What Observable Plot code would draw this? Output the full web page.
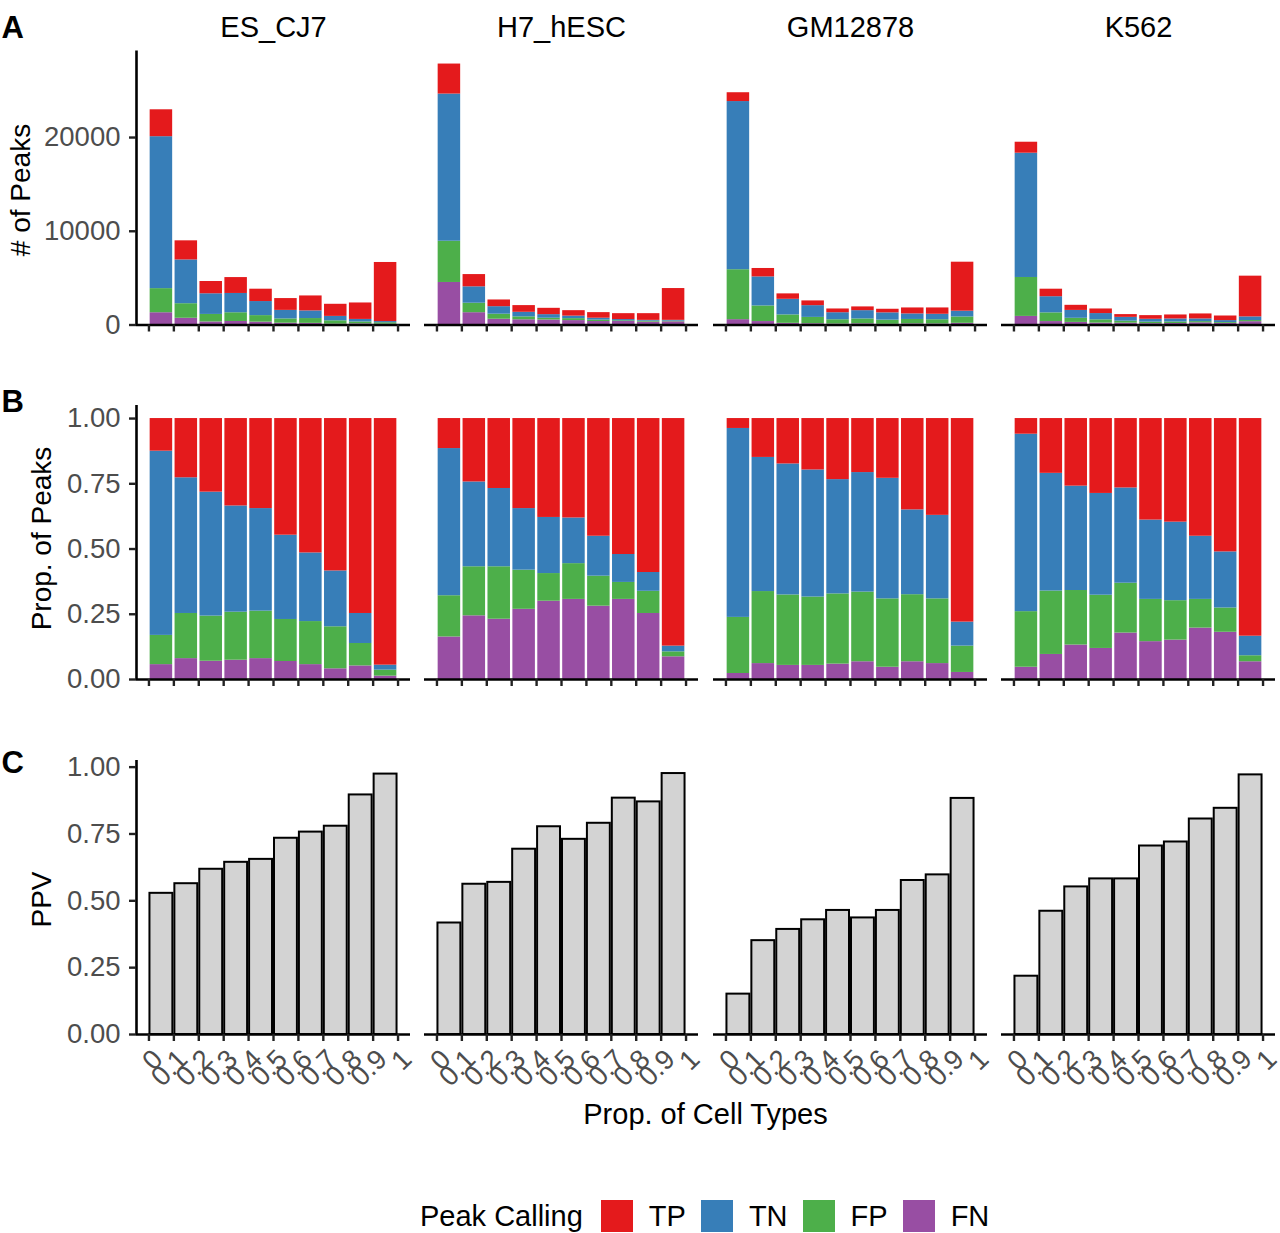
<!DOCTYPE html>
<html><head><meta charset="utf-8">
<script src="https://cdn.jsdelivr.net/npm/d3@7"></script>
<script src="https://cdn.jsdelivr.net/npm/@observablehq/plot@0.6"></script>
<style>
body{margin:0;background:#fff;}
#chart{position:relative;width:1280px;height:1233px;overflow:hidden;font-family:"Liberation Sans",Arial,Helvetica,sans-serif;background:#fff;}
#chart svg{position:absolute;}
.xtitle{position:absolute;left:136px;width:1139px;top:1100px;text-align:center;font-size:29px;line-height:28px;color:#000;}
.legend{position:absolute;left:420px;top:1200px;height:32px;display:flex;align-items:center;font-size:29px;line-height:32px;color:#000;}
.legend .sw{width:32px;height:32px;margin-right:16px;}
.legend .lab{margin-right:15px;}
.legend .ttl{margin-right:18px;}
</style></head><body><div id="chart"></div>
<script>
// ---------- data ----------
const cellTypes = ["ES_CJ7", "H7_hESC", "GM12878", "K562"];
const classes = ["TP", "TN", "FP", "FN"];          // legend order
const classColors = ["#E41A1C", "#377EB8", "#4DAF4A", "#984EA3"];
const stackOrder = ["FN", "FP", "TN", "TP"];       // bottom -> top
const binStarts = [0, 0.1, 0.2, 0.3, 0.4, 0.5, 0.6, 0.7, 0.8, 0.9];
const binWidth = 0.1;
const xTicks = [0, 0.1, 0.2, 0.3, 0.4, 0.5, 0.6, 0.7, 0.8, 0.9, 1];
const xTickLabels = ["0", "0.1", "0.2", "0.3", "0.4", "0.5", "0.6", "0.7", "0.8", "0.9", "1"];
const yTicksCount = [0, 10000, 20000];
const yTicksProp = [0, 0.25, 0.5, 0.75, 1];
const rowLetters = ["A", "B", "C"];
const rowTitles = ["# of Peaks", "Prop. of Peaks", "PPV"];
const xTitle = "Prop. of Cell Types";
const legendTitle = "Peak Calling";

// total peaks per bin (panel A)
const totES_CJ7  = [22960, 8980, 4640, 5060, 3820, 2820, 3100, 2210, 2350, 6670];
const totH7_hESC = [27840, 5380, 2670, 2070, 1780, 1530, 1320, 1210, 1210, 3890];
const totGM12878 = [24780, 6030, 3320, 2570, 1710, 1930, 1680, 1820, 1820, 6700];
const totK562    = [19500, 3820, 2100, 1710, 1110, 1000, 1070, 1180, 960, 5210];

// proportions per bin (panel B)
const fnES_CJ7 = [.057, .080, .070, .074, .080, .069, .057, .041, .052, .013];
const fpES_CJ7 = [.112, .173, .173, .184, .182, .161, .165, .161, .086, .023];
const tnES_CJ7 = [.706, .520, .475, .407, .393, .323, .263, .214, .115, .019];
const tpES_CJ7 = [.125, .227, .282, .335, .345, .447, .515, .584, .747, .945];

const fnH7_hESC = [.163, .244, .231, .269, .300, .307, .281, .307, .253, .087];
const fpH7_hESC = [.158, .188, .201, .150, .106, .137, .115, .065, .085, .019];
const tnH7_hESC = [.564, .325, .300, .236, .215, .175, .153, .107, .072, .022];
const tpH7_hESC = [.115, .243, .268, .345, .379, .381, .451, .521, .590, .872];

const fnGM12878 = [.023, .061, .054, .054, .059, .068, .047, .068, .061, .027];
const fpGM12878 = [.215, .276, .270, .262, .269, .267, .262, .257, .248, .101];
const tnGM12878 = [.724, .514, .502, .487, .438, .458, .462, .325, .320, .092];
const tpGM12878 = [.038, .149, .174, .197, .234, .207, .229, .350, .371, .780];

const fnK562 = [.047, .096, .132, .119, .178, .145, .151, .197, .181, .068];
const fpK562 = [.213, .243, .209, .204, .191, .162, .151, .110, .093, .023];
const tnK562 = [.680, .451, .400, .390, .365, .304, .301, .242, .215, .075];
const tpK562 = [.060, .210, .259, .287, .266, .389, .397, .451, .511, .834];

// positive predictive value per bin (panel C)
const ppvES_CJ7  = [0.528, 0.564, 0.618, 0.644, 0.655, 0.734, 0.757, 0.779, 0.896, 0.974];
const ppvH7_hESC = [0.417, 0.562, 0.569, 0.693, 0.777, 0.730, 0.790, 0.884, 0.870, 0.976];
const ppvGM12878 = [0.151, 0.351, 0.393, 0.429, 0.464, 0.436, 0.464, 0.576, 0.597, 0.883];
const ppvK562    = [0.218, 0.461, 0.552, 0.582, 0.582, 0.705, 0.720, 0.806, 0.846, 0.971];

// ---------- tables for Plot ----------
const byCell = {
  ES_CJ7:  {total: totES_CJ7,  TP: tpES_CJ7,  TN: tnES_CJ7,  FP: fpES_CJ7,  FN: fnES_CJ7,  ppv: ppvES_CJ7},
  H7_hESC: {total: totH7_hESC, TP: tpH7_hESC, TN: tnH7_hESC, FP: fpH7_hESC, FN: fnH7_hESC, ppv: ppvH7_hESC},
  GM12878: {total: totGM12878, TP: tpGM12878, TN: tnGM12878, FP: fpGM12878, FN: fnGM12878, ppv: ppvGM12878},
  K562:    {total: totK562,    TP: tpK562,    TN: tnK562,    FP: fpK562,    FN: fnK562,    ppv: ppvK562}
};

const countRows = [], propRows = [], ppvRows = [];
for (const cell of cellTypes) {
  const s = byCell[cell];
  binStarts.forEach((x0, i) => {
    const sum = stackOrder.reduce((a, k) => a + s[k][i], 0);
    let cumC = 0, cumP = 0;
    for (const k of stackOrder) {
      const p = s[k][i] / sum;
      const c = p * s.total[i];
      countRows.push({cell, cls: k, x1: x0, x2: x0 + binWidth, y1: cumC, y2: cumC + c});
      propRows.push({cell, cls: k, x1: x0, x2: x0 + binWidth, y1: cumP, y2: cumP + p});
      cumC += c; cumP += p;
    }
    ppvRows.push({cell, x1: x0, x2: x0 + binWidth, ppv: s.ppv[i]});
  });
}
const maxCount = d3.max(cellTypes.flatMap(c => byCell[c].total));
const maxPpv = d3.max(ppvRows, d => d.ppv);

// ---------- layout ----------
const FONT = '"Liberation Sans", Arial, Helvetica, sans-serif';
const W = 274, H = 274;
const panelLeft = c => 136 + c * 288.33;
const rowTop = [50.5, 405.3, 760.3];
const yDomains = [[0, maxCount * 1.05], [0, 1.05], [0, maxPpv * 1.05]];
const yFormats = [d3.format("d"), d3.format(".2f"), d3.format(".2f")];
const yTicks = [yTicksCount, yTicksProp, yTicksProp];
const titleBaselineX = [29, 50, 50];
const titleShiftY = [2, -4, 2];
const letterBaseline = [37, 412, 773];
const chart = document.getElementById("chart");
const colorOpts = {domain: classes, range: classColors};
const TICK_FS = 27.5;

for (let r = 0; r < 3; r++) {
  for (let c = 0; c < 4; c++) {
    const cell = cellTypes[c];
    const mL = c === 0 ? 136 : 8, mR = 5;
    const mT = r === 0 ? 50.5 : 30;
    const mB = r === 2 ? 80 : 15;
    const marks = [];
    if (r === 0) {
      marks.push(Plot.rect(countRows.filter(d => d.cell === cell), {
        x1: "x1", x2: "x2", y1: "y1", y2: "y2", fill: "cls", insetLeft: 1.2, insetRight: 1.2
      }));
      marks.push(Plot.text([cell], {frameAnchor: "top", dy: -13.8, lineAnchor: "bottom", fontSize: 29, fill: "black"}));
    } else if (r === 1) {
      marks.push(Plot.rect(propRows.filter(d => d.cell === cell), {
        x1: "x1", x2: "x2", y1: "y1", y2: "y2", fill: "cls", insetLeft: 1.2, insetRight: 1.2
      }));
    } else {
      marks.push(Plot.rect(ppvRows.filter(d => d.cell === cell), {
        x1: "x1", x2: "x2", y1: 0, y2: "ppv", fill: "#D3D3D3", stroke: "black", strokeWidth: 2,
        insetLeft: 1, insetRight: 1
      }));
      marks.push(Plot.text(xTicks, {
        x: d => d, frameAnchor: "bottom", text: (d, i) => xTickLabels[i],
        rotate: -45, textAnchor: "end", lineAnchor: "top", dx: 1.5, dy: 12.5,
        fontSize: TICK_FS, fill: "#4d4d4d"
      }));
    }
    marks.push(Plot.ruleY([0], {stroke: "black", strokeWidth: 2.6}));
    marks.push(Plot.axisX({ticks: xTicks, tickSize: 7, tickFormat: () => "", stroke: "#222", strokeWidth: 2.4, label: null}));
    if (c === 0) {
      marks.push(Plot.ruleX([-0.05], {stroke: "black", strokeWidth: 2.6}));
      marks.push(Plot.axisY({
        ticks: yTicks[r], tickFormat: yFormats[r], tickSize: 7, tickPadding: 9,
        fontSize: TICK_FS, fill: "#4d4d4d", stroke: "#222", strokeWidth: 2.4, label: null
      }));
      marks.push(Plot.text([rowTitles[r]], {
        frameAnchor: "left", dx: -(136 - titleBaselineX[r]), dy: titleShiftY[r], rotate: -90,
        textAnchor: "middle", lineAnchor: "bottom", fontSize: 28, fill: "black"
      }));
      marks.push(Plot.text([rowLetters[r]], {
        frameAnchor: "top-left", dx: 1 - 136, dy: letterBaseline[r] - rowTop[r],
        textAnchor: "start", lineAnchor: "bottom", fontSize: 31, fontWeight: "bold", fill: "black"
      }));
    }
    const svg = Plot.plot({
      width: mL + W + mR, height: mT + H + mB,
      marginLeft: mL, marginRight: mR, marginTop: mT, marginBottom: mB,
      style: {background: "transparent", overflow: "visible", fontFamily: FONT},
      x: {domain: [-0.05, 1.05], axis: null},
      y: {domain: yDomains[r], axis: null},
      color: colorOpts,
      marks
    });
    svg.style.left = (panelLeft(c) - mL) + "px";
    svg.style.top = (rowTop[r] - mT) + "px";
    chart.appendChild(svg);
  }
}

// x axis title
const xt = document.createElement("div");
xt.className = "xtitle";
xt.textContent = xTitle;
chart.appendChild(xt);

// legend (colors from the Plot color scale)
const colorScale = Plot.scale({color: colorOpts});
const lg = document.createElement("div");
lg.className = "legend";
const t = document.createElement("span");
t.className = "ttl"; t.textContent = legendTitle; lg.appendChild(t);
for (const k of classes) {
  const sw = document.createElement("span");
  sw.className = "sw"; sw.style.background = colorScale.apply(k);
  lg.appendChild(sw);
  const lab = document.createElement("span");
  lab.className = "lab"; lab.textContent = k;
  lg.appendChild(lab);
}
chart.appendChild(lg);
</script></body></html>
